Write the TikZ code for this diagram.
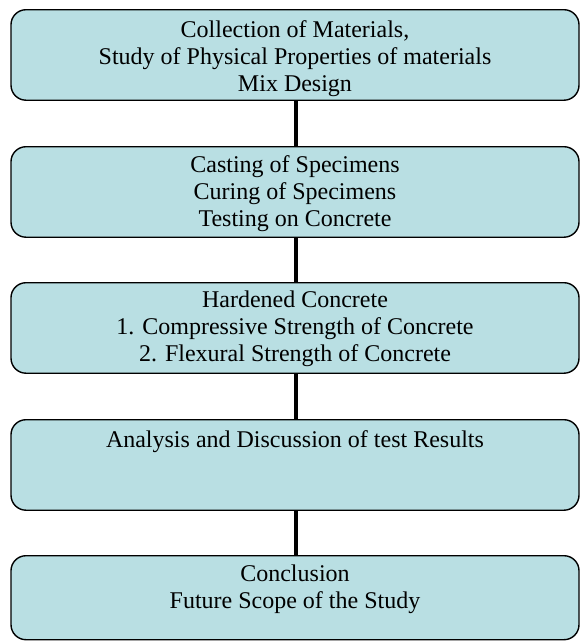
\documentclass[tikz,border=0pt]{standalone}
\usepackage{fontspec}
\setmainfont{Liberation Serif}
\definecolor{boxfill}{HTML}{B9DFE3}
\begin{document}
\begin{tikzpicture}[x=1pt,y=1pt,
  box/.style={draw=black, fill=boxfill, line width=1.4pt, rounded corners=15pt,
    minimum width=568pt, minimum height=90.5pt, inner sep=0pt, anchor=north},
  boxtext/.style={anchor=north, align=center, inner sep=0pt,
    font=\fontsize{24}{27}\selectfont},
  link/.style={line width=4.5pt, draw=black}]
\useasboundingbox (0,0) rectangle (580,-641);
\node[box] (b1) at (295,-9) {};
\node[box] (b2) at (295,-146) {};
\node[box] (b3) at (295,-282) {};
\node[box] (b4) at (295,-419) {};
\node[box, minimum height=84pt] (b5) at (295,-555) {};
\node[boxtext] (t1) at ([yshift=-11pt]b1.north) {Collection of Materials,\\Study of Physical Properties of materials\\Mix Design};
\node[boxtext] (t2) at ([yshift=-9pt]b2.north) {Casting of Specimens\\Curing of Specimens\\Testing on Concrete};
\node[boxtext] (t3) at ([yshift=-9pt]b3.north) {Hardened Concrete\\1. Compressive Strength of Concrete\\2. Flexural Strength of Concrete};
\node[boxtext] (t4) at ([yshift=-11pt]b4.north) {Analysis and Discussion of test Results};
\node[boxtext] (t5) at ([yshift=-10pt]b5.north) {Conclusion\\Future Scope of the Study};
\draw[link] ([xshift=1pt]b1.south) -- ([xshift=1pt]b2.north);
\draw[link] ([xshift=1pt]b2.south) -- ([xshift=1pt]b3.north);
\draw[link] ([xshift=1pt]b3.south) -- ([xshift=1pt]b4.north);
\draw[link] ([xshift=1pt]b4.south) -- ([xshift=1pt]b5.north);
\end{tikzpicture}
\end{document}
